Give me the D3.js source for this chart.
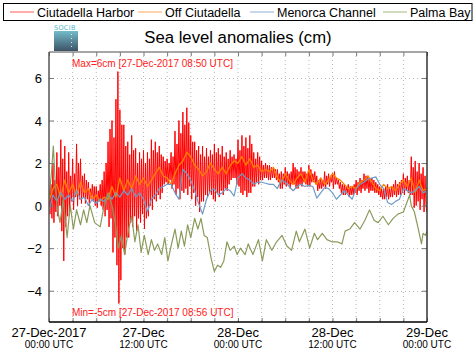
<!DOCTYPE html>
<html><head><meta charset="utf-8">
<script src="https://cdn.jsdelivr.net/npm/d3@7"></script>
<style>body{margin:0;background:#fff}svg{display:block;font-family:"Liberation Sans",Arial,Helvetica,sans-serif}</style>
</head><body><svg id="c" width="476" height="359"></svg>
<script>
// ---------- data ----------
const seriesNames = ["Ciutadella Harbor", "Off Ciutadella", "Menorca Channel", "Palma Bay"];
const seriesColors = ["#ff0000", "#ff8000", "#6f9bc8", "#8a9a5b"];
const legendColors = ["#ff8080", "#ffbb80", "#a9c3e2", "#b6c99a"];
const titleText = "Sea level anomalies (cm)";
const maxText = "Max=6cm [27-Dec-2017 08:50 UTC]";
const minText = "Min=-5cm [27-Dec-2017 08:56 UTC]";
const yTicks = [-4, -2, 0, 2, 4, 6];
const xLabelHours = [0, 12, 24, 36, 48];
const xLabelTop = ["27-Dec-2017", "27-Dec", "28-Dec", "28-Dec", "29-Dec"];
const xLabelBottom = ["00:00 UTC", "12:00 UTC", "00:00 UTC", "12:00 UTC", "00:00 UTC"];

// Ciutadella Harbor, sampled every 7.5 min (hours 0..48), one row of 4 per half hour
const harborValues = [
 0.6,-0.4,1.0,-0.6, 2.0,-0.8,1.2,-0.3, 2.5,-0.5,1.8,0.0, 3.1,-1.2,2.2,-2.6,
 2.8,-1.0,1.6,-0.5, 2.5,-0.3,1.4,0.2, 2.2,-0.2,1.5,0.4, 2.9,0.0,2.0,0.3,
 2.2,0.1,1.4,0.4, 1.5,0.1,1.2,0.3, 1.1,0.0,0.8,0.3, 1.0,0.2,0.9,0.0,
 0.9,-0.1,0.7,0.2, 1.0,0.0,1.2,-0.2, 1.6,-0.5,2.0,-0.2, 3.0,-1.0,3.6,-0.6,
 4.0,-2.2,3.2,-1.5, 5.0,-2.8,6.3,-4.6, 4.5,-3.5,3.8,-2.0, 3.8,-2.3,2.8,-1.5,
 3.0,-1.5,2.4,-0.8, 3.3,-1.0,2.6,-0.5, 2.7,-1.2,2.0,-0.6, 2.5,-0.8,2.2,-0.4,
 2.6,-1.1,2.0,-0.6, 2.5,-0.5,2.2,0.0, 3.1,-0.2,2.6,0.3, 3.0,0.2,2.5,0.5,
 2.8,0.3,2.4,0.6, 2.3,1.0,2.1,1.1, 2.2,1.0,2.0,1.2, 2.5,0.8,2.3,1.0,
 3.5,0.5,2.9,0.8, 4.0,0.3,3.4,0.7, 4.4,0.6,3.8,0.8, 4.6,0.5,3.9,0.9,
 3.3,0.3,3.0,0.6, 3.0,0.0,2.6,0.4, 2.8,-0.3,2.4,0.2, 2.8,0.2,2.3,0.5,
 2.7,0.4,2.3,0.6, 2.6,0.5,2.4,0.3, 2.9,0.2,2.5,0.6, 2.7,0.4,2.4,0.7,
 2.8,0.5,2.3,0.8, 2.5,0.7,2.2,1.0, 2.6,1.2,2.3,1.3, 2.4,1.3,2.2,1.0,
 3.1,0.9,2.6,0.6, 3.3,0.5,2.8,0.7, 3.2,0.4,2.7,0.6, 3.3,0.6,2.9,0.9,
 2.5,0.9,2.2,1.1, 2.5,1.0,2.3,1.2, 2.1,1.2,1.9,1.3, 2.0,1.3,1.9,1.2,
 1.9,1.2,1.8,1.3, 1.8,1.3,1.7,1.2, 1.7,1.1,1.5,0.8, 1.6,0.8,1.5,1.0,
 1.8,0.9,1.6,1.0, 1.5,0.8,1.6,1.0, 2.0,1.0,1.8,0.8, 1.7,0.8,1.6,1.0,
 1.8,0.9,1.6,1.1, 1.6,1.0,1.5,0.9, 1.9,0.9,1.7,1.1, 1.5,1.1,1.6,1.0,
 1.4,0.7,1.2,0.8, 1.3,0.8,1.2,0.9, 1.6,0.8,1.4,1.0, 1.5,0.9,1.4,1.1,
 1.5,0.8,1.6,1.0, 1.3,1.0,1.2,0.8, 1.1,0.6,1.0,0.5, 1.0,0.5,0.9,0.6,
 1.0,0.4,0.9,0.5, 0.9,0.5,1.0,0.6, 1.2,0.5,1.1,0.7, 1.3,0.6,1.2,0.8,
 1.5,0.7,1.4,0.8, 1.4,0.6,1.3,0.7, 1.3,0.7,1.2,0.6, 1.1,0.6,1.0,0.5,
 0.9,0.4,0.8,0.3, 0.8,0.3,0.9,0.4, 1.0,0.3,0.8,0.4, 0.9,0.4,1.0,0.5,
 1.2,0.4,1.0,0.5, 1.1,0.5,1.2,0.6, 1.5,0.5,1.3,0.7, 1.4,0.6,1.2,0.5,
 2.3,0.5,1.8,-0.1, 2.1,0.0,1.6,0.2, 2.0,-0.2,1.5,0.3, 1.8,-0.3,1.4,0.0,
 -0.3
];
// Off Ciutadella, every 30 min
const offValues = [
 0.2,0.8,1.0,0.4,1.2,0.6,1.0,0.5,
 1.1,0.6,0.8,0.3,0.5,0.2,0.4,0.3,
 0.9,0.4,1.3,0.7,1.2,0.8,1.4,1.0,
 1.3,0.9,1.2,1.5,1.8,1.4,1.3,1.0,
 1.5,1.9,2.1,2.5,2.3,1.9,1.7,1.4,
 1.6,2.0,1.7,1.5,1.8,1.5,1.9,2.1,
 2.0,2.3,1.9,2.2,1.8,1.9,1.6,1.7,
 1.6,1.8,1.3,1.1,1.5,1.2,1.0,1.3,
 1.5,1.1,1.7,1.2,1.0,1.3,1.0,1.2,
 1.5,1.3,1.2,1.0,0.8,0.9,0.8,1.1,
 1.2,1.4,1.1,0.8,0.7,1.0,0.8,0.9,
 0.7,1.0,1.2,0.9,1.3,0.6,1.2,0.7,
 0.8
];
// Menorca Channel, every 30 min
const channelValues = [
 -0.3,0.5,0.2,0.6,0.3,0.5,0.2,0.7,
 0.3,0.4,0.0,0.3,0.1,0.3,0.2,0.5,
 0.3,0.6,0.4,0.7,0.5,0.8,0.4,0.6,
 0.3,-0.3,0.3,0.5,0.8,0.9,1.0,1.0,
 0.6,0.3,1.7,1.5,1.2,0.7,0.1,-0.4,
 0.3,0.7,0.8,0.5,0.6,0.8,0.7,0.45,
 1.3,1.5,1.3,1.2,1.0,1.1,1.1,1.05,
 1.0,1.0,0.8,1.2,1.1,0.9,0.7,0.9,
 1.0,0.9,0.95,0.9,0.35,0.6,0.85,0.8,
 0.6,0.3,0.5,0.7,0.5,0.3,0.8,1.0,
 1.1,1.25,1.3,1.35,1.0,0.8,0.15,0.05,
 0.2,0.3,0.8,0.7,0.6,0.7,0.9,0.6,
 0.7
];
// Palma Bay, irregular sample hours
const bayHours = [0.0,0.3,0.55,0.8,1.0,1.4,1.8,2.3,2.7,3.1,3.5,4.0,4.4,4.8,5.2,5.8,6.5,6.9,7.5,8.0,8.4,8.8,9.2,9.6,10.1,10.5,10.9,11.3,11.7,12.1,12.6,13.0,13.4,13.8,14.3,14.7,15.1,15.5,16.0,16.4,16.8,17.2,17.6,18.0,18.5,18.9,19.3,19.7,20.1,20.6,21.0,21.4,21.8,22.2,22.6,23.0,23.5,23.9,24.3,24.9,25.3,25.9,26.6,27.1,27.6,28.3,28.9,29.6,30.2,30.8,31.4,31.8,32.5,33.1,33.7,34.1,34.7,35.3,35.9,36.6,37.2,37.6,38.2,38.8,39.5,40.1,40.7,41.3,41.8,42.4,43.1,43.7,44.3,45.0,45.4,45.8,46.0,46.4,46.9,47.3,47.5,47.8,48.0];
const bayValues = [0.3,1.5,2.8,1.0,0.0,-0.8,0.3,-1.5,0.0,-1.1,-0.2,-0.9,-0.2,-0.8,0.0,-0.8,-1.0,-0.2,0.6,0.0,-0.8,-2.0,-1.4,-2.3,-1.1,-0.5,-1.7,-0.9,-2.2,-1.4,-2.3,-1.6,-2.1,-1.8,-2.3,-1.5,-2.6,-1.9,-1.1,-2.0,-1.2,-1.9,-0.9,-1.5,-0.6,-1.1,-0.6,-1.4,-1.5,-2.5,-3.1,-2.8,-2.9,-2.6,-1.7,-2.1,-1.9,-2.3,-2.0,-2.3,-1.8,-2.3,-1.6,-2.6,-1.6,-2.1,-1.7,-1.4,-1.9,-2.1,-1.2,-1.7,-1.1,-2.0,-1.3,-1.6,-1.3,-1.6,-1.7,-1.7,-1.8,-1.2,-1.1,-0.8,-1.1,-0.7,-0.2,-0.7,-0.8,-0.5,-0.9,-0.6,-0.4,-0.3,0.1,0.5,0.0,-0.3,-1.1,-1.8,-1.3,-1.4,-1.2];

// ---------- layout ----------
const W = 476, H = 359;
const M = {left: 49, right: 427, top: 52, bottom: 322};
const t0 = Date.UTC(2017, 11, 27);
const hr = 3600e3;
const x = d3.scaleUtc().domain([new Date(t0), new Date(t0 + 48 * hr)]).range([M.left, M.right]);
const y = d3.scaleLinear().domain([-5.47, 7.22]).range([M.bottom, M.top]);
const svg = d3.select("#c");
svg.append("rect").attr("width", W).attr("height", H).attr("fill", "#fff");

// grid
const gridHours = d3.range(3, 48, 3);
svg.append("g").selectAll("line").data(gridHours).join("line")
  .attr("x1", d => x(new Date(t0 + d * hr))).attr("x2", d => x(new Date(t0 + d * hr)))
  .attr("y1", M.top).attr("y2", M.bottom)
  .attr("stroke", "#b8b8b8").attr("stroke-width", 1).attr("stroke-dasharray", "1,3");
svg.append("g").selectAll("line").data(yTicks).join("line")
  .attr("x1", M.left).attr("x2", M.right)
  .attr("y1", d => Math.round(y(d)) + 0.5).attr("y2", d => Math.round(y(d)) + 0.5)
  .attr("stroke", "#b8b8b8").attr("stroke-width", 1).attr("stroke-dasharray", "1,3");

// series
svg.append("clipPath").attr("id", "clip").append("rect")
  .attr("x", M.left).attr("y", M.top).attr("width", M.right - M.left).attr("height", M.bottom - M.top);
const plot = svg.append("g").attr("clip-path", "url(#clip)");
const line = d3.line().x(d => x(d[0])).y(d => y(d[1]));
const mk = (hours, vals) => vals.map((v, i) => [new Date(t0 + hours[i] * hr), v]);
const harborHours = harborValues.map((_, i) => i * 48 / (harborValues.length - 1));
const halfHours = offValues.map((_, i) => i * 0.5);
const data = [mk(harborHours, harborValues), mk(halfHours, offValues), mk(halfHours, channelValues), mk(bayHours, bayValues)];
const widths = [1, 1.3, 1.2, 1.2];
data.forEach((d, i) => {
  plot.append("path").datum(d).attr("d", line).attr("fill", "none")
    .attr("stroke", seriesColors[i]).attr("stroke-width", widths[i]).attr("stroke-linejoin", "round");
});

// axes
const tickHours = d3.range(0, 49, 3);
const xb = svg.append("g").attr("transform", `translate(0,${M.bottom})`)
  .call(d3.axisBottom(x).tickValues(tickHours.map(h => new Date(t0 + h * hr))).tickSize(-4).tickFormat(""));
const xt = svg.append("g").attr("transform", `translate(0,${M.top})`)
  .call(d3.axisTop(x).tickValues(tickHours.map(h => new Date(t0 + h * hr))).tickSize(-4).tickFormat(""));
const yl = svg.append("g").attr("transform", `translate(${M.left},0)`)
  .call(d3.axisLeft(y).tickValues(yTicks).tickSize(-5).tickPadding(7).tickFormat(d3.format("d")));
const yr = svg.append("g").attr("transform", `translate(${M.right},0)`)
  .call(d3.axisRight(y).tickValues(yTicks).tickSize(-5).tickFormat(""));
[xb, xt, yl, yr].forEach(g => {
  g.select(".domain").remove();
  g.selectAll(".tick line").attr("stroke", "#777").attr("stroke-width", 1);
});
yl.selectAll(".tick text").attr("font-size", 13).attr("fill", "#000")
  .attr("font-family", '"Liberation Sans",Arial,sans-serif').attr("dy", "0.36em");

// frame
svg.append("line").attr("x1", M.left).attr("x2", M.right).attr("y1", M.top).attr("y2", M.top).attr("stroke", "#888").attr("stroke-width", 1.5);
svg.append("line").attr("x1", M.right).attr("x2", M.right).attr("y1", M.top).attr("y2", M.bottom).attr("stroke", "#333").attr("stroke-width", 1.5);
svg.append("line").attr("x1", M.left).attr("x2", M.left).attr("y1", M.top).attr("y2", M.bottom).attr("stroke", "#555").attr("stroke-width", 1.5);
svg.append("line").attr("x1", M.left).attr("x2", M.right).attr("y1", M.bottom).attr("y2", M.bottom).attr("stroke", "#000").attr("stroke-width", 1.5);

// x labels
const xl = svg.append("g");
xLabelHours.forEach((h, i) => {
  const xx = x(new Date(t0 + h * hr));
  xl.append("text").attr("x", xx).attr("y", 337).attr("text-anchor", "middle").attr("font-size", 13).text(xLabelTop[i]);
  xl.append("text").attr("x", xx).attr("y", 347.5).attr("text-anchor", "middle").attr("font-size", 10).text(xLabelBottom[i]);
});

// max/min annotations
svg.append("text").attr("x", 72).attr("y", 67).attr("font-size", 10).attr("fill", "#ff2020").text(maxText);
svg.append("text").attr("x", 72).attr("y", 316).attr("font-size", 10).attr("fill", "#ff2020").text(minText);

// title
svg.append("text").attr("x", 238).attr("y", 43).attr("text-anchor", "middle").attr("font-size", 16.7).attr("fill", "#000").text(titleText);

// logo
const defs = svg.append("defs");
const gr = defs.append("linearGradient").attr("id", "lg").attr("x1", 0).attr("x2", 0).attr("y1", 0).attr("y2", 1);
gr.append("stop").attr("offset", "0%").attr("stop-color", "#72bccb");
gr.append("stop").attr("offset", "100%").attr("stop-color", "#3d5266");
svg.append("rect").attr("x", 54).attr("y", 31).attr("width", 24).attr("height", 20).attr("fill", "url(#lg)");
svg.append("line").attr("x1", 71.5).attr("x2", 71.5).attr("y1", 34).attr("y2", 49).attr("stroke", "#fff").attr("stroke-width", 1).attr("stroke-dasharray", "1,3").attr("opacity", 0.8);
svg.append("text").attr("x", 54).attr("y", 29.5).attr("font-size", 6.5).attr("fill", "#4fb6cc")
  .attr("font-family", '"DejaVu Sans",sans-serif').attr("letter-spacing", 0.3).text("SOCIB");

// legend
const lg = svg.append("g");
lg.append("rect").attr("x", 3.5).attr("y", 3.5).attr("width", 468.5).attr("height", 17).attr("fill", "#fff").attr("stroke", "#000").attr("stroke-width", 1);
const legX = [10, 138, 250, 383];
seriesNames.forEach((n, i) => {
  lg.append("line").attr("x1", legX[i]).attr("x2", legX[i] + 24).attr("y1", 12).attr("y2", 12).attr("stroke", legendColors[i]).attr("stroke-width", 1.3);
  lg.append("text").attr("x", legX[i] + 27).attr("y", 16.5).attr("font-size", 12.5).attr("fill", "#000").text(n);
});
</script></body></html>
